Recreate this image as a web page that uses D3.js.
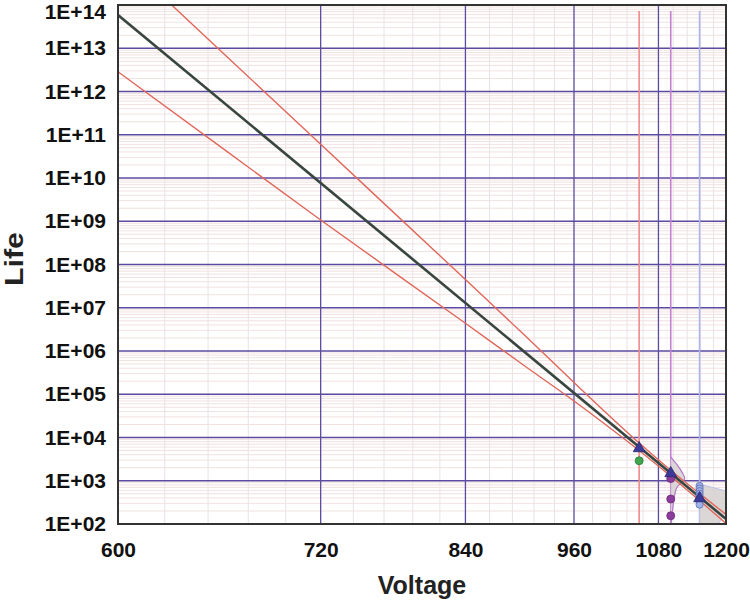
<!DOCTYPE html>
<html><head><meta charset="utf-8">
<script src="https://cdn.jsdelivr.net/npm/d3@7"></script>
<style>
html,body{margin:0;padding:0;background:#fff;}
svg{display:block;font-family:"Liberation Sans",Arial,sans-serif;}
</style></head>
<body><svg id="c" width="750" height="602"></svg>
<script>
// ---------- data ----------
const voltTicks = [600, 720, 840, 960, 1080, 1200];
const lifeTicks = [1e2,1e3,1e4,1e5,1e6,1e7,1e8,1e9,1e10,1e11,1e12,1e13,1e14];
const stressLevels = [1050, 1100, 1150];

// fitted life line (Voltage, Life)
const lineVolt = [600, 1200];
const lineLife = [5.88e13, 130.6];

// confidence bounds
const boundVolt  = [600, 660, 720, 840, 900, 960, 1000, 1050, 1100, 1150, 1200];
const upperLife  = [1.45e15, 5.9e12, 6.0e10, 4.48e7, 2.47e6, 1.87e5, 4.06e4, 7.46e3, 1.75e3, 505, 166];
const lowerLife  = [2.87e12, 3.86e10, 1.07e9, 4.37e6, 4.74e5, 6.98e4, 2.08e4, 5.0e3, 1.27e3, 348, 103];

// mean life at each stress (triangles)
const meanVolt = [1050, 1100, 1150];
const meanLife = [5620, 1490, 392];

// failure data
const fail1050 = [2900];
const fail1100 = [1120, 378, 155];
const fail1150 = [760, 660, 575, 500, 440, 380, 330, 280];

// pdf shapes (life, relative density)
const pdf1100Life = [3548, 2818, 2239, 1585, 1122, 955, 708, 501, 316, 200, 126, 100];
const pdf1100Dens = [0, 0.25, 0.5, 0.8, 1.0, 0.85, 0.45, 0.3, 0.2, 0.12, 0.05, 0.03];
const pdf1150Life = [832, 708, 562, 447, 316, 224, 158, 100];
const pdf1150Dens = [0, 0.3, 0.7, 1.0, 0.9, 0.75, 0.6, 0.45];

// ---------- scales ----------
const L = 118, R = 726, T = 5, B = 524;
const xInv = d3.scaleLinear().domain([1/600, 1/1200]).range([L, R]);
const xV = v => xInv(1 / v);
const y = d3.scaleLog().domain([1e2, 1e14]).range([B, T]);
const dens1100 = d3.scaleLinear().domain([0, 1]).range([0, 14]);
const dens1150 = d3.scaleLinear().domain([0, 1]).range([0, 40]);

const svg = d3.select("#c");
svg.append("rect").attr("width", 750).attr("height", 602).attr("fill", "#fff");
svg.append("defs").append("clipPath").attr("id", "clip")
  .append("rect").attr("x", L).attr("y", T).attr("width", R - L).attr("height", B - T);

const plot = svg.append("g").attr("clip-path", "url(#clip)");

// minor grid
const minorV = d3.range(600, 1201, 24).filter(v => !voltTicks.includes(v));
plot.append("g").selectAll("line").data(minorV).join("line")
  .attr("x1", d => xV(d)).attr("x2", d => xV(d)).attr("y1", T).attr("y2", B)
  .attr("stroke", "#e8e2e8").attr("stroke-width", 1);
const minorY = [];
lifeTicks.slice(0, -1).forEach(d => { for (let k = 2; k <= 9; k++) minorY.push(d * k); });
plot.append("g").selectAll("line").data(minorY).join("line")
  .attr("x1", L).attr("x2", R).attr("y1", d => y(d)).attr("y2", d => y(d))
  .attr("stroke", "#f1e2e0").attr("stroke-width", 1);

// major grid
plot.append("g").selectAll("line").data(voltTicks.slice(1, -1)).join("line")
  .attr("x1", d => xV(d)).attr("x2", d => xV(d)).attr("y1", T).attr("y2", B)
  .attr("stroke", "#5b4ba0").attr("stroke-width", 1.3);
plot.append("g").selectAll("line").data(lifeTicks.slice(1, -1)).join("line")
  .attr("x1", L).attr("x2", R).attr("y1", d => y(d)).attr("y2", d => y(d))
  .attr("stroke", "#5b4ba0").attr("stroke-width", 1.3);

// stress level vertical lines
const stressColors = ["#f08a8a", "#c480d2", "#aab6ea"];
plot.append("g").selectAll("line").data(stressLevels).join("line")
  .attr("x1", d => xV(d)).attr("x2", d => xV(d)).attr("y1", 11).attr("y2", B)
  .attr("stroke", (d, i) => stressColors[i]).attr("stroke-width", 1.6);

// pdf shapes
function pdfPath(v, lifes, dens, sc) {
  const pts = lifes.map((l, i) => [xV(v) + sc(dens[i]), y(l)]);
  pts.push([xV(v), y(lifes[lifes.length - 1])]);
  pts.unshift([xV(v), y(lifes[0])]);
  return d3.line().curve(d3.curveMonotoneY)(pts);
}
plot.append("path").attr("d", pdfPath(1150, pdf1150Life, pdf1150Dens, dens1150))
  .attr("fill", "#d6d0d0").attr("fill-opacity", 0.85).attr("stroke", "#b9c0e6").attr("stroke-width", 1);
plot.append("path").attr("d", pdfPath(1100, pdf1100Life, pdf1100Dens, dens1100))
  .attr("fill", "#d6d0d0").attr("fill-opacity", 0.85).attr("stroke", "#b577c8").attr("stroke-width", 1.2);

// bounds
const bline = d3.line().curve(d3.curveMonotoneX);
plot.append("path").attr("d", bline(boundVolt.map((v, i) => [xV(v), y(upperLife[i])])))
  .attr("fill", "none").attr("stroke", "#e0675a").attr("stroke-width", 1.4);
plot.append("path").attr("d", bline(boundVolt.map((v, i) => [xV(v), y(lowerLife[i])])))
  .attr("fill", "none").attr("stroke", "#e0675a").attr("stroke-width", 1.4);

// fitted line
plot.append("path").attr("d", d3.line()(lineVolt.map((v, i) => [xV(v), y(lineLife[i])])))
  .attr("fill", "none").attr("stroke", "#38463f").attr("stroke-width", 2.6);

// failure points
const pts = plot.append("g");
pts.selectAll(".f50").data(fail1050).join("circle")
  .attr("cx", xV(1050)).attr("cy", d => y(d)).attr("r", 4)
  .attr("fill", "#3fa64e").attr("stroke", "#2b7a38").attr("stroke-width", 0.8);
pts.selectAll(".f00").data(fail1100).join("circle")
  .attr("cx", xV(1100)).attr("cy", d => y(d)).attr("r", 4)
  .attr("fill", "#8c3c9c").attr("stroke", "#6a2a78").attr("stroke-width", 0.8);
pts.selectAll(".f150").data(fail1150).join("circle")
  .attr("cx", xV(1150)).attr("cy", d => y(d)).attr("r", 3.6)
  .attr("fill", "#9fb2e6").attr("stroke", "#5f6fb2").attr("stroke-width", 0.8);

// mean triangles
pts.selectAll("path.tri").data(meanVolt).join("path").attr("class", "tri")
  .attr("transform", (d, i) => `translate(${xV(d)},${y(meanLife[i])})`)
  .attr("d", d3.symbol().type(d3.symbolTriangle).size(60))
  .attr("fill", "#3c3a98").attr("stroke", "#2a2870").attr("stroke-width", 0.8);

// frame
svg.append("rect").attr("x", L).attr("y", T).attr("width", R - L).attr("height", B - T)
  .attr("fill", "none").attr("stroke", "#333").attr("stroke-width", 2);

// axes
const xAxis = d3.axisBottom(xInv).tickValues(voltTicks.map(v => 1 / v))
  .tickFormat(u => String(Math.round(1 / u))).tickSize(0).tickPadding(18);
const gx = svg.append("g").attr("transform", `translate(0,${B})`).call(xAxis);
gx.select(".domain").remove();
gx.selectAll("text").attr("font-size", 21).attr("font-weight", "bold").attr("fill", "#111")
  .attr("font-family", "'Liberation Sans',Arial,sans-serif");

const yAxis = d3.axisLeft(y).tickValues(lifeTicks)
  .tickFormat(d => "1E+" + String(Math.round(Math.log10(d))).padStart(2, "0")).tickSize(0).tickPadding(12);
const gy = svg.append("g").attr("transform", `translate(${L},0)`).call(yAxis);
gy.select(".domain").remove();
gy.selectAll("text").attr("font-size", 21).attr("font-weight", "bold").attr("fill", "#111")
  .attr("font-family", "'Liberation Sans',Arial,sans-serif");
gy.selectAll(".tick").filter(d => d === 1e14).select("text").attr("dy", "0.62em");

// titles
svg.append("text").attr("x", (L + R) / 2).attr("y", 594).attr("text-anchor", "middle")
  .attr("font-size", 25).attr("font-weight", "bold").attr("fill", "#222").text("Voltage");
svg.append("text").attr("transform", "translate(23,259) rotate(-90)").attr("text-anchor", "middle")
  .attr("font-size", 25).attr("font-weight", "bold").attr("fill", "#222")
  .attr("textLength", 54).attr("lengthAdjust", "spacingAndGlyphs").text("Life");
</script></body></html>
